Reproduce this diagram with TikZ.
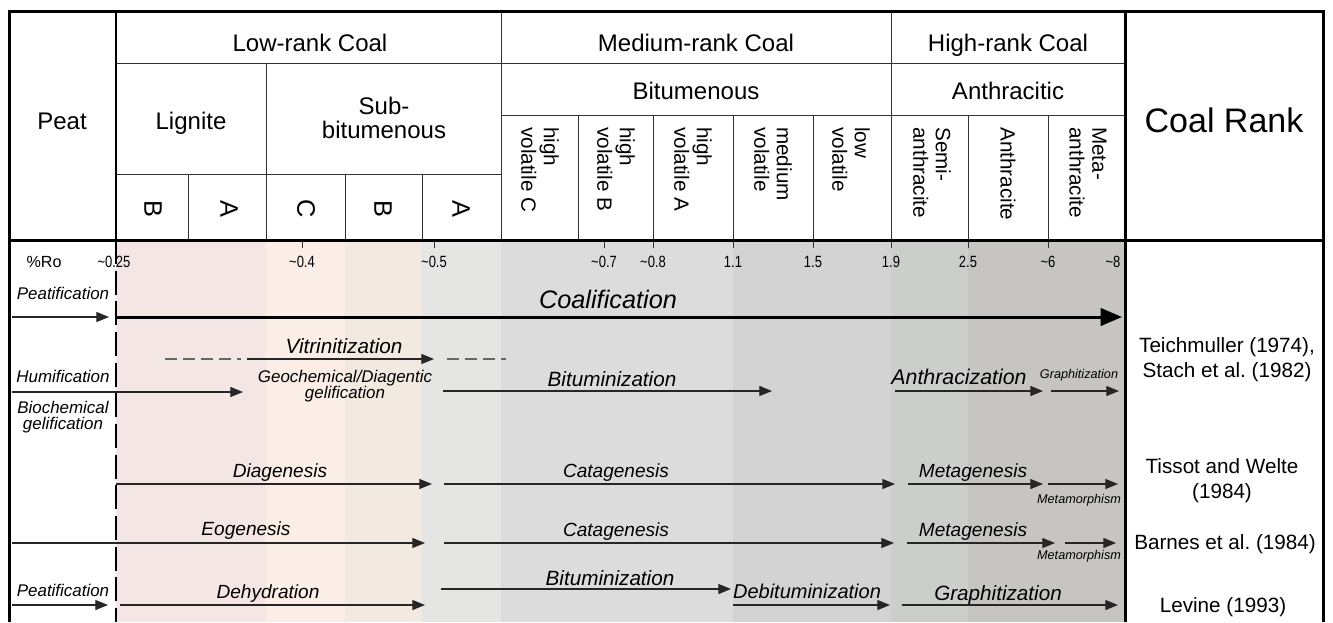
\documentclass[tikz,border=0pt]{standalone}
\usepackage{fontspec}
\setmainfont{Liberation Sans}
\newfontfamily\narrowfont[FakeStretch=0.8]{Liberation Sans}
\usetikzlibrary{arrows.meta}
\definecolor{bandA}{HTML}{F4E6E5}
\definecolor{bandB}{HTML}{FBEEE6}
\definecolor{bandC}{HTML}{F2EAE0}
\definecolor{bandD}{HTML}{E5E5E3}
\definecolor{bandE}{HTML}{DCDCDC}
\definecolor{bandF}{HTML}{D3D3D3}
\definecolor{bandG}{HTML}{CCCECC}
\definecolor{bandH}{HTML}{C6C5C2}
\newcommand{\apx}{\textasciitilde}
\newcommand{\tightlines}{\lineskiplimit-20pt\relax}
\frenchspacing
\begin{document}
\begin{tikzpicture}[x=0.75pt,y=-0.75pt,
  every node/.style={inner sep=0pt},
  hdr/.style={font=\fontsize{18}{17.5}\selectfont,align=center},
  vcell/.style={rotate=-90,anchor=west,align=left,font=\fontsize{15.5}{17}\selectfont},
  grade/.style={rotate=-90,font=\fontsize{19}{19}\selectfont},
  proc/.style={anchor=base,font=\fontsize{14.3}{15}\selectfont\itshape},
  bigproc/.style={anchor=base,font=\fontsize{15.5}{16}\selectfont\itshape},
  side/.style={align=center,font={\fontsize{12.7}{12.3}\selectfont\itshape\tightlines}},
  tiny/.style={anchor=base,font=\fontsize{9.5}{10}\selectfont\itshape},
  cite/.style={align=center,font={\fontsize{15.5}{18.75}\selectfont\tightlines}},
  rolab/.style={anchor=base,font=\narrowfont\fontsize{12.2}{12}\selectfont},
  arr/.style={-{Triangle[length=9.5pt,width=7.5pt]},line width=0.9pt,black!85},
  dsh/.style={line width=0.9pt,black!60,dash pattern=on 9pt off 4.5pt},
  grid/.style={line width=0.6pt,black!80},
  frame/.style={line width=2.25pt}]
\useasboundingbox (0,0) rectangle (1333,622);
\foreach \xa/\xb/\c in {116/266/bandA,266/345/bandB,345/422/bandC,422/501/bandD,501/733/bandE,733/891/bandF,891/968/bandG,968/1125/bandH}
  \fill[\c] (\xa,240) rectangle (\xb,622);
\draw[grid] (116,63) -- (1125,63);
\draw[grid] (116,174) -- (501,174);
\draw[grid] (501,115) -- (1125,115);
\draw[grid] (501,11) -- (501,240) (891,11) -- (891,240) (266,63) -- (266,240);
\foreach \x in {188,345,422}
  \draw[grid] (\x,174) -- (\x,240);
\foreach \x in {578,653,733,813,968,1048}
  \draw[grid] (\x,115) -- (\x,240);
\foreach \x in {302,434,604,653,733,813,891,968,1048}
  \draw[grid] (\x,240) -- (\x,248);
\draw[frame] (9,622) -- (9,11) -- (1323,11) -- (1323,622);
\draw[frame] (9,240) -- (1323,240);
\draw[frame] (1125,11) -- (1125,622);
\draw[line width=1.6pt] (116,11) -- (116,240);
\draw[line width=1.6pt,dash pattern=on 18pt off 5pt] (116,240) -- (116,622);

\node[hdr,anchor=base] (peat) at (62,129) {Peat};
\node[hdr,anchor=base] (lowrank) at (310,51) {Low-rank Coal};
\node[hdr,anchor=base] (medrank) at (696,51) {Medium-rank Coal};
\node[hdr,anchor=base] (highrank) at (1008,51) {High-rank Coal};
\node[hdr,anchor=base] (lignite) at (191,129) {Lignite};
\node[hdr] (subbit) at (384,118) {Sub-\\bitumenous};
\node[hdr,anchor=base] (bitum) at (696,99) {Bitumenous};
\node[hdr,anchor=base] (anthra) at (1008,99) {Anthracitic};
\node[hdr,anchor=base,font=\fontsize{25.5}{26}\selectfont] (rank) at (1224,132) {Coal Rank};
\foreach \x/\g [count=\i] in {153/B,229/A,306/C,383/B,461/A}
  \node[grade] (gr\i) at (\x,209) {\g};
\foreach \x/\t [count=\i] in {540/{high\\volatile C},616/{high\\volatile B},693/{high\\volatile A},773/{medium\\volatile},851/{low\\volatile},932/{Semi-\\anthracite},1008/{Anthracite},1088/{Meta-\\anthracite}}
  \node[vcell] (vc\i) at (\x,127) {\t};

\node[anchor=base,font=\fontsize{12.1}{12}\selectfont] (ro) at (44,267) {\%Ro};
\foreach \x/\v [count=\i] in {114/\apx0.25,302/\apx0.4,434/\apx0.5,604/\apx0.7,653/\apx0.8,733/1.1,813/1.5,891/1.9,968/2.5,1048/\apx6,1113/\apx8}
  \node[rolab] (ro\i) at (\x,267) {\v};

\node[side,anchor=base] (peatA) at (63,299) {Peatification};
\draw[arr] (12,317) -- (109,317);
\draw[-{Triangle[length=16pt,width=13pt]},line width=2.25pt] (117,317) -- (1122,317);
\node[anchor=base,font=\fontsize{19}{20}\selectfont\itshape] (coal) at (608,308) {Coalification};

\node[bigproc] (vit) at (344,353) {Vitrinitization};
\draw[dsh] (165,359) -- (241,359);
\draw[arr] (247,359) -- (434,359);
\draw[dsh] (447,359) -- (506,359);

\node[side,anchor=base] (humi) at (63,382) {Humification};
\draw[arr] (12,392) -- (243,392);
\node[side] (bioch) at (63,417) {Biochemical\\gelification};
\node[side] (geoch) at (345,386) {Geochemical/Diagentic\\gelification};
\node[bigproc] (bitA) at (612,386) {Bituminization};
\draw[arr] (443,391) -- (772,391);
\node[bigproc,font=\fontsize{16}{16}\selectfont\itshape] (anthr) at (959,384) {Anthracization};
\draw[arr] (895,391) -- (1043,391);
\node[tiny] (grA) at (1079,378) {Graphitization};
\draw[arr] (1051,391) -- (1119,391);
\node[cite] (teich) at (1227,360) {Teichmuller (1974),\\Stach et al. (1982)};

\node[proc] (diag) at (280,477) {Diagenesis};
\draw[arr] (116,484) -- (432,484);
\node[proc] (catA) at (616,477) {Catagenesis};
\draw[arr] (444,484) -- (895,484);
\node[proc] (metA) at (973,477) {Metagenesis};
\draw[arr] (908,484) -- (1043,484);
\node[tiny] (mmA) at (1079,503) {Metamorphism};
\draw[arr] (1048,484) -- (1118,484);
\node[cite] (tissot) at (1222,481) {Tissot and Welte\\(1984)};

\node[proc] (eog) at (246,535) {Eogenesis};
\draw[arr] (12,543) -- (425,543);
\node[proc] (catB) at (616,536) {Catagenesis};
\draw[arr] (444,543) -- (894,543);
\node[proc] (metB) at (973,536) {Metagenesis};
\draw[arr] (907,543) -- (1055,543);
\node[tiny] (mmB) at (1079,559) {Metamorphism};
\draw[arr] (1065,543) -- (1116,543);
\node[cite,anchor=base] (barnes) at (1225,549) {Barnes et al. (1984)};

\node[side,anchor=base] (peatB) at (63,596) {Peatification};
\draw[arr] (12,605) -- (108,605);
\node[proc] (dehy) at (268,598) {Dehydration};
\draw[arr] (120,605) -- (425,605);
\node[bigproc] (bitB) at (610,585) {Bituminization};
\draw[arr] (441,589) -- (731,589);
\node[proc,font=\fontsize{15}{15}\selectfont\itshape] (debit) at (807,598) {Debituminization};
\draw[arr] (733,605) -- (890,605);
\node[bigproc] (grB) at (998,600) {Graphitization};
\draw[arr] (902,605) -- (1118,605);
\node[cite,anchor=base] (levine) at (1223,612) {Levine (1993)};
\end{tikzpicture}
\end{document}
